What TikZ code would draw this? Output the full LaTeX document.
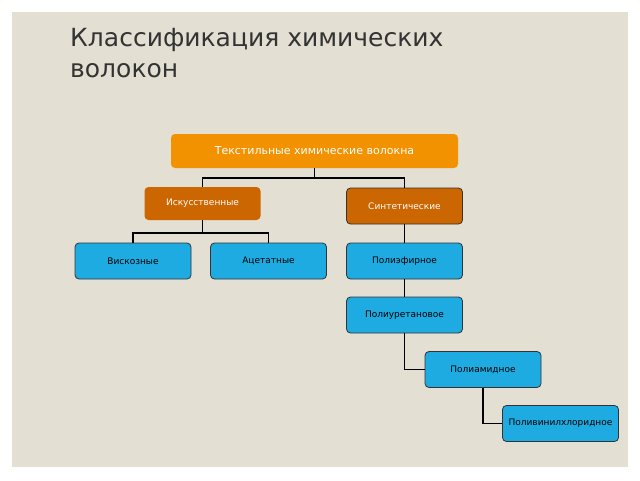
\documentclass[tikz,border=0pt]{standalone}
\usepackage{fontspec}
\setmainfont{DejaVu Sans}
\definecolor{bgc}{RGB}{227,223,211}
\definecolor{bluec}{RGB}{29,171,226}
\definecolor{brownc}{RGB}{204,102,0}
\definecolor{orangec}{RGB}{243,146,0}
\definecolor{titlec}{RGB}{51,51,51}
\begin{document}
\begin{tikzpicture}[x=1pt,y=-1pt,
  box/.style={rounded corners=4pt,minimum width=116pt,minimum height=36pt,inner sep=0pt,font=\fontsize{9}{10}\selectfont},
  blue/.style={box,fill=bluec,draw=black!80,line width=0.8pt,text=black},
  brown/.style={box,fill=brownc,text=white},
  conn/.style={line width=1.6pt,black}]
\useasboundingbox (0,0) rectangle (640,480);
\fill[white] (0,0) rectangle (640,480);
\fill[bgc] (12,12) rectangle (628,467);
\node[anchor=north west,align=left,text=titlec,font=\fontsize{25}{31}\selectfont,inner sep=0pt] (title) at (70,28) {Классификация химических\\волокон};
\node[box,fill=orangec,text=white,minimum width=287pt,minimum height=34pt,font=\fontsize{11}{12}\selectfont] (top) at (314.5,151) {Текстильные химические волокна};
\node[brown,minimum height=33pt] (isk) at (202.5,203.5) {Искусственные};
\node[brown,draw=black!80,line width=0.8pt] (sin) at (404.5,206) {Синтетические};
\node[blue] (vis) at (133,261) {Вискозные};
\node[blue] (ace) at (268.5,261) {Ацетатные};
\node[blue] (pe) at (404.5,261) {Полиэфирное};
\node[blue] (pu) at (404.5,315) {Полиуретановое};
\node[blue] (pa) at (483,369.5) {Полиамидное};
\node[blue] (pv) at (560.5,423.5) {Поливинилхлоридное};
\draw[conn] (top.south) -- ++(0,10) -| (isk.north);
\draw[conn] (top.south) -- ++(0,10) -| (sin.north);
\draw[conn] (isk.south) -- ++(0,13) -| (vis.north);
\draw[conn] (isk.south) -- ++(0,13) -| (ace.north);
\draw[conn] (sin.south) -- (pe.north);
\draw[conn] (pe.south) -- (pu.north);
\draw[conn] (pu.south) |- (pa.west);
\draw[conn] (pa.south) |- (pv.west);
\end{tikzpicture}
\end{document}
